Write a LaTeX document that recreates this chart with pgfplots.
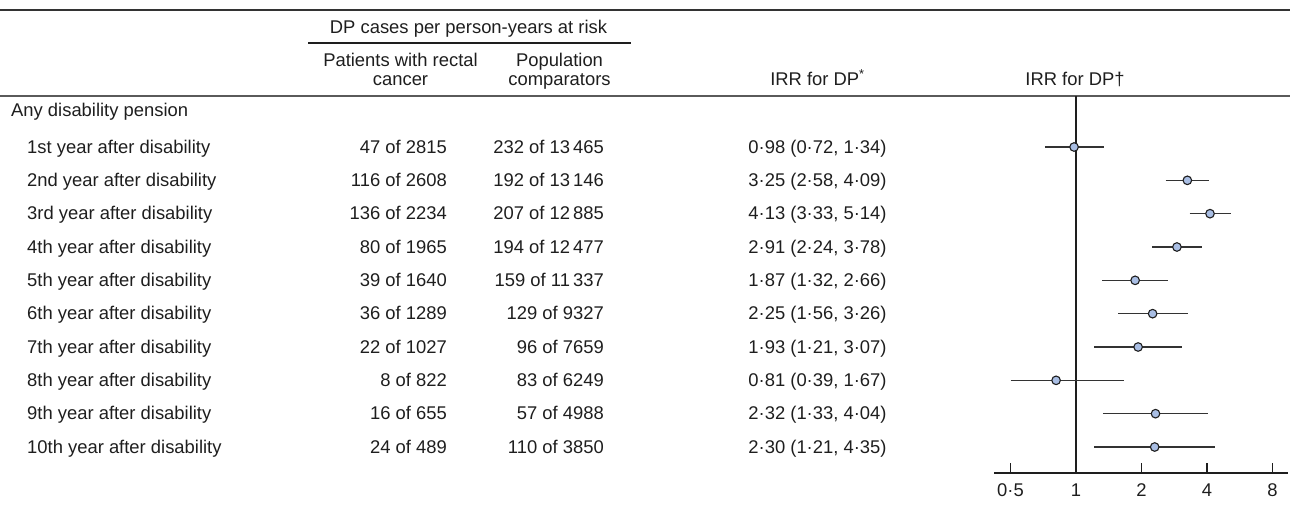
\documentclass[border=0pt]{standalone}
\usepackage{pgfplots}
\pgfplotsset{compat=1.18}
\usepackage{pgfplotstable}
\usepackage{fontspec}
\setmainfont{Liberation Sans}
\definecolor{txt}{HTML}{1E1E1E}
\definecolor{mk}{HTML}{A9BEE4}
\definecolor{ln}{HTML}{333333}
\definecolor{rule}{HTML}{5A5A5A}

% point estimates (IRR for DP), row k plotted at y = -k
\pgfplotstableread{
y irr
-1 0.98
-2 3.25
-3 4.13
-4 2.91
-5 1.87
-6 2.25
-7 1.93
-8 0.81
-9 2.32
-10 2.30
}\est

% confidence intervals (row 8 lower limit is drawn cut at 0.5)
\pgfplotstableread{
x y
0.72 -1
1.34 -1
nan nan
2.58 -2
4.09 -2
nan nan
3.33 -3
5.14 -3
nan nan
2.24 -4
3.78 -4
nan nan
1.32 -5
2.66 -5
nan nan
1.56 -6
3.26 -6
nan nan
1.21 -7
3.07 -7
nan nan
0.5 -8
1.67 -8
nan nan
1.33 -9
4.04 -9
nan nan
1.21 -10
4.35 -10
}\ci

\begin{document}
\begin{tikzpicture}[x=1pt,y=1pt,
  every node/.style={text=txt, inner sep=0pt, font=\fontsize{18.4}{22}\selectfont}]
\useasboundingbox (0,0) rectangle (1290,-506);

% rules
\draw[ln, line width=1.5pt] (0,-10) -- (1290,-10);
\draw[txt, line width=1.2pt] (308,-43) -- (631,-43);
\draw[rule, line width=2.5pt] (0,-96) -- (1290,-96);

% header
\node[anchor=base] at (468.5,-33) {DP cases per person-years at risk};
\node[anchor=base] at (400.5,-66) {Patients with rectal};
\node[anchor=base] at (400.5,-85) {cancer};
\node[anchor=base] at (559.5,-66) {Population};
\node[anchor=base] at (559.5,-85) {comparators};
\node[anchor=base] at (817.5,-85) {IRR for DP\textsuperscript{*}};
\node[anchor=base] at (1075,-85) {IRR for DP†};
\node[anchor=base west] at (11,-116) {Any disability pension};

% row labels
\node[anchor=base west] at (27,-153) {1st year after disability};
\node[anchor=base west] at (27,-186.3) {2nd year after disability};
\node[anchor=base west] at (27,-219.7) {3rd year after disability};
\node[anchor=base west] at (27,-253) {4th year after disability};
\node[anchor=base west] at (27,-286.3) {5th year after disability};
\node[anchor=base west] at (27,-319.7) {6th year after disability};
\node[anchor=base west] at (27,-353) {7th year after disability};
\node[anchor=base west] at (27,-386.3) {8th year after disability};
\node[anchor=base west] at (27,-419.7) {9th year after disability};
\node[anchor=base west] at (27,-453) {10th year after disability};

% patients column
\node[anchor=base east] at (447,-153) {47 of 2815};
\node[anchor=base east] at (447,-186.3) {116 of 2608};
\node[anchor=base east] at (447,-219.7) {136 of 2234};
\node[anchor=base east] at (447,-253) {80 of 1965};
\node[anchor=base east] at (447,-286.3) {39 of 1640};
\node[anchor=base east] at (447,-319.7) {36 of 1289};
\node[anchor=base east] at (447,-353) {22 of 1027};
\node[anchor=base east] at (447,-386.3) {8 of 822};
\node[anchor=base east] at (447,-419.7) {16 of 655};
\node[anchor=base east] at (447,-453) {24 of 489};

% population column
\node[anchor=base east] at (604,-153) {232 of 13\,465};
\node[anchor=base east] at (604,-186.3) {192 of 13\,146};
\node[anchor=base east] at (604,-219.7) {207 of 12\,885};
\node[anchor=base east] at (604,-253) {194 of 12\,477};
\node[anchor=base east] at (604,-286.3) {159 of 11\,337};
\node[anchor=base east] at (604,-319.7) {129 of 9327};
\node[anchor=base east] at (604,-353) {96 of 7659};
\node[anchor=base east] at (604,-386.3) {83 of 6249};
\node[anchor=base east] at (604,-419.7) {57 of 4988};
\node[anchor=base east] at (604,-453) {110 of 3850};

% IRR column
\node[anchor=base] at (817.5,-153) {0·98 (0·72, 1·34)};
\node[anchor=base] at (817.5,-186.3) {3·25 (2·58, 4·09)};
\node[anchor=base] at (817.5,-219.7) {4·13 (3·33, 5·14)};
\node[anchor=base] at (817.5,-253) {2·91 (2·24, 3·78)};
\node[anchor=base] at (817.5,-286.3) {1·87 (1·32, 2·66)};
\node[anchor=base] at (817.5,-319.7) {2·25 (1·56, 3·26)};
\node[anchor=base] at (817.5,-353) {1·93 (1·21, 3·07)};
\node[anchor=base] at (817.5,-386.3) {0·81 (0·39, 1·67)};
\node[anchor=base] at (817.5,-419.7) {2·32 (1·33, 4·04)};
\node[anchor=base] at (817.5,-453) {2·30 (1·21, 4·35)};

\begin{axis}[
  at={(994pt,-473pt)}, anchor=south west,
  scale only axis, width=294pt, height=377pt,
  xmode=log, log basis x=2,
  xmin=0.4199, xmax=9.43, ymin=-10.78, ymax=0.53,
  axis x line*=bottom, axis y line=none,
  axis line style={-, txt, line width=1.3pt},
  every outer x axis line/.append style={-},
  xtick={0.5,1,2,4,8}, xticklabels={0·5,1,2,4,8},
  minor xtick={},
  tick align=inside, major tick length=10pt,
  x tick style={txt, line width=1.3pt},
  xticklabel style={inner sep=0pt, yshift=-10.5pt, text=txt,
    font=\fontsize{18.4}{22}\selectfont},
  clip=false,
]
\addplot[txt, line width=1.4pt] coordinates {(1,-10.78) (1,0.53)};
\addplot[ln, line width=1.6pt, unbounded coords=jump] table[x=x,y=y] {\ci};
\addplot[only marks, mark=*, mark size=4.3pt,
  mark options={fill=mk, draw=txt, line width=1.1pt}] table[x=irr,y=y] {\est};
\end{axis}
\end{tikzpicture}
\end{document}
